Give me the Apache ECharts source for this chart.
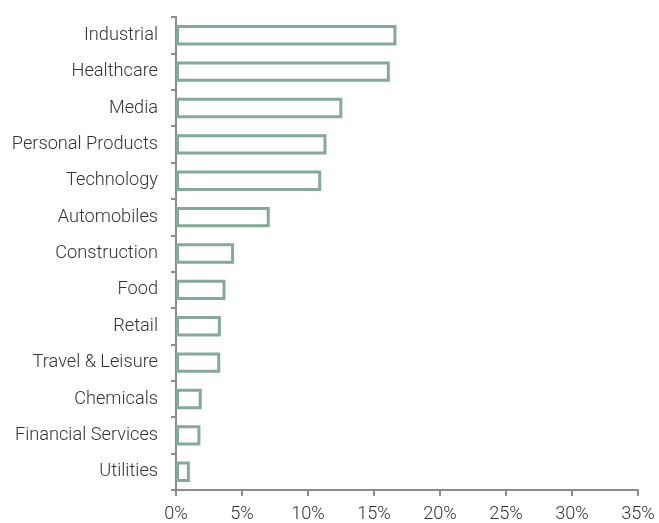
<!DOCTYPE html>
<html>
<head>
<meta charset="utf-8">
<script src="https://cdn.jsdelivr.net/npm/echarts@6/dist/echarts.min.js"></script>
<style>
  html, body { margin: 0; padding: 0; background: #fff; }
  #chart { width: 659px; height: 523px; }
</style>
</head>
<body>
<div id="chart"></div>
<script>
// Sector weights, listed from top to bottom
const sectors = [
  'Industrial', 'Healthcare', 'Media', 'Personal Products', 'Technology',
  'Automobiles', 'Construction', 'Food', 'Retail', 'Travel & Leisure',
  'Chemicals', 'Financial Services', 'Utilities'
];
const weights = [16.7, 16.2, 12.6, 11.4, 11.0, 7.1, 4.4, 3.75, 3.4, 3.35, 1.95, 1.85, 1.05];

const xMin = 0;
const xMax = 35;
const xStep = 5;

const chart = echarts.init(document.getElementById('chart'));
const axisColor = '#8c8c8c';
const textColor = '#333333';
const fontFamily = 'Roboto, sans-serif';

chart.setOption({
  animation: false,
  grid: { left: 176, right: 21, top: 17, bottom: 33, containLabel: false },
  xAxis: {
    type: 'value',
    min: xMin,
    max: xMax,
    interval: xStep,
    axisLine: { show: true, lineStyle: { color: axisColor, width: 2 } },
    axisTick: { show: true, length: 6, lineStyle: { color: axisColor, width: 2 } },
    splitLine: { show: false },
    axisLabel: {
      formatter: v => v + '%',
      color: textColor,
      fontSize: 18.2,
      fontWeight: 300,
      fontFamily: fontFamily,
      margin: 15
    }
  },
  yAxis: {
    type: 'category',
    inverse: true,
    data: sectors,
    axisLine: { show: true, lineStyle: { color: axisColor, width: 2 } },
    axisTick: { show: true, length: 5, alignWithLabel: false, lineStyle: { color: axisColor, width: 2 } },
    axisLabel: {
      color: textColor,
      fontSize: 18.2,
      fontWeight: 300,
      fontFamily: fontFamily,
      margin: 18,
      padding: [5, 0, 0, 0]
    }
  },
  series: [{
    type: 'bar',
    data: weights,
    barCategoryGap: '44%',
    itemStyle: {
      color: '#ffffff',
      borderColor: '#86a898',
      borderWidth: 3
    }
  }]
});
</script>
</body>
</html>
